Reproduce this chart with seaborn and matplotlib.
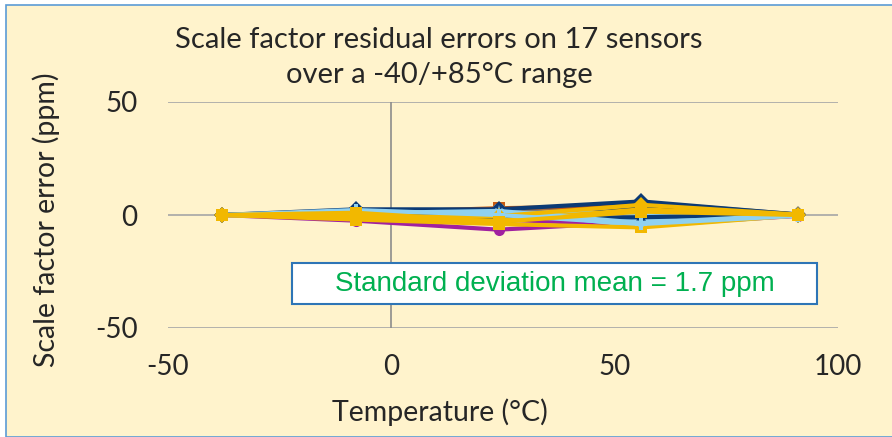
import numpy as np
import pandas as pd
import matplotlib
matplotlib.use("Agg")
import matplotlib.pyplot as plt
import seaborn as sns
from matplotlib.patches import Rectangle

temps = [-38, -8, 24, 56, 91]
sensors = [f"S{i+1}" for i in range(17)]
errors = [
    [0, 2.0, 1.5, 5.5, 0.3],
    [0, -1.5, -2.0, -4.5, -0.4],
    [0, 1.0, 3.0, 4.0, 0.2],
    [0, -2.5, -6.5, -3.0, 0.0],
    [0, 0.5, -1.0, 2.0, 0.1],
    [0, -0.5, 2.0, -5.0, -0.2],
    [0, 1.5, -3.0, 3.0, 0.3],
    [0, -1.0, 1.0, -2.0, -0.3],
    [0, 2.5, 2.5, 6.0, 0.2],
    [0, -2.0, -4.0, -5.5, -0.1],
    [0, 0.0, 0.5, 1.0, 0.0],
    [0, 1.2, -1.5, -1.0, 0.4],
    [0, -1.2, -2.5, 2.5, -0.2],
    [0, 0.8, 1.8, -3.5, 0.1],
    [0, -0.8, -0.5, 4.5, 0.2],
    [0, 2.2, 0.0, -4.0, -0.3],
    [0, 1.0, -3.0, 1.5, 0.0],
]
colors = ["#7F7F7F", "#A020A0", "#C55A11", "#A020A0", "#C55A11", "#8FD1F0",
          "#0B3A75", "#8FD1F0", "#0B3A75", "#F2B800", "#8FD1F0", "#0B3A75",
          "#F2B800", "#8FD1F0", "#F2B800", "#8FD1F0", "#F2B800"]
markers = ["D", "o", "s", "o", "s", "X", "^", "*", "D", "s", "X", "^", "o", "*", "D", "P", "s"]

rows = []
for s, vals in zip(sensors, errors):
    for t, v in zip(temps, vals):
        rows.append({"Sensor": s, "Temperature": t, "Error": v})
df = pd.DataFrame(rows)

sns.set_style("white")
plt.rcParams["font.family"] = ["Lato", "DejaVu Sans"]
plt.rcParams["axes.unicode_minus"] = False

fig = plt.figure(figsize=(8.92, 4.37), dpi=100)
fig.patch.set_facecolor("white")
bg = Rectangle((6 / 892, 0), 1, 1 - 5 / 437, transform=fig.transFigure,
               facecolor="#FFF3CC", edgecolor="#5B9BD5", linewidth=1.2, zorder=-10)
fig.patches.append(bg)

ax = fig.add_axes([168 / 892, 1 - 328 / 437, (838 - 168) / 892, (328 - 102) / 437])
ax.set_facecolor("none")

palette = dict(zip(sensors, colors))
mk = dict(zip(sensors, markers))
sns.lineplot(data=df, x="Temperature", y="Error", hue="Sensor", style="Sensor",
             palette=palette, markers=mk, dashes=False, linewidth=3,
             markersize=8, markeredgewidth=0, legend=False, ax=ax, sort=False)

ax.set_xlim(-50, 100)
ax.set_ylim(-50, 50)
ax.set_xticks([-50, 0, 50, 100])
ax.set_yticks([-50, 0, 50])
for y in [-50, 0, 50]:
    ax.axhline(y, color="#A6A6A6", linewidth=1.2, zorder=0)
ax.axvline(0, color="#8C8C8C", linewidth=1.2, zorder=0)
for sp in ax.spines.values():
    sp.set_visible(False)
ax.tick_params(axis="x", length=0, pad=19, labelsize=20)
ax.tick_params(axis="y", length=0, pad=22, labelsize=20)
ax.set_xlabel("")
ax.set_ylabel("")

fig.text(440 / 892, 1 - 412 / 437, "Temperature (°C)", ha="center", va="center", fontsize=20.5)
fig.text(46 / 892, 1 - 220 / 437, "Scale factor error (ppm)", ha="center", va="center",
         rotation=90, fontsize=20.5)

fig.text(439 / 892, 1 - 40 / 437, "Scale factor residual errors on 17 sensors",
         ha="center", va="center", fontsize=21)
fig.text(439 / 892, 1 - 75 / 437, "over a -40/+85°C range",
         ha="center", va="center", fontsize=21)

box = Rectangle((292 / 892, 1 - 304 / 437), (817 - 292) / 892, (304 - 263) / 437,
                transform=fig.transFigure, facecolor="white", edgecolor="#2E75B6",
                linewidth=1.5, zorder=5)
fig.patches.append(box)
fig.text(555 / 892, 1 - 284 / 437, "Standard deviation mean = 1.7 ppm",
         ha="center", va="center", fontsize=20, color="#00B050",
         family=["Liberation Sans", "DejaVu Sans"], zorder=6)

fig.savefig("out.png", dpi=100)
